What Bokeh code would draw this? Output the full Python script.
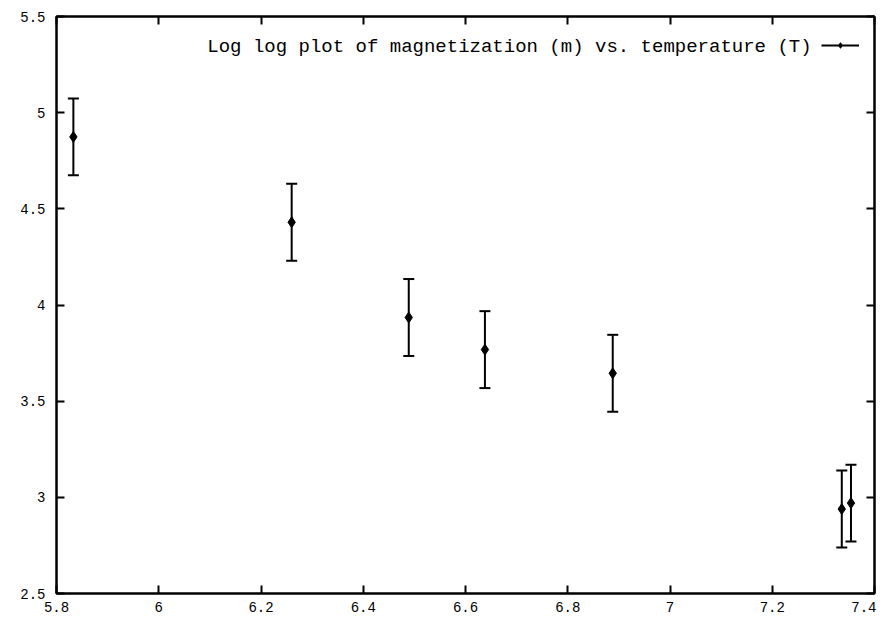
from bokeh.plotting import figure
from bokeh.models import LinearAxis, FixedTicker, Legend, LegendItem, Label, ColumnDataSource
from bokeh.embed import file_html
from bokeh.resources import INLINE

# data
temps = [5.833, 6.26, 6.489, 6.638, 6.888, 7.336, 7.354]
mags = [4.874, 4.43, 3.935, 3.768, 3.645, 2.939, 2.970]
errs = [0.2, 0.2, 0.2, 0.2, 0.2, 0.2, 0.2]
x_ticks = [5.8, 6.0, 6.2, 6.4, 6.6, 6.8, 7.0, 7.2, 7.4]
x_tick_labels = ["5.8", "6", "6.2", "6.4", "6.6", "6.8", "7", "7.2", "7.4"]
y_ticks = [2.5, 3.0, 3.5, 4.0, 4.5, 5.0, 5.5]
y_tick_labels = ["2.5", "3", "3.5", "4", "4.5", "5", "5.5"]
legend_text = "Log log plot of magnetization (m) vs. temperature (T)"

FONT = "Liberation Mono"

src = ColumnDataSource(dict(
    x=temps, y=mags,
    lo=[m - e for m, e in zip(mags, errs)],
    hi=[m + e for m, e in zip(mags, errs)],
))

p = figure(width=876, height=616, output_backend="svg", toolbar_location=None,
           x_range=(x_ticks[0], x_ticks[-1]), y_range=(y_ticks[0], y_ticks[-1]),
           min_border_left=56, min_border_right=2, min_border_top=16, min_border_bottom=23)
p.xgrid.visible = False
p.ygrid.visible = False
p.outline_line_color = "black"
p.outline_line_width = 2
p.background_fill_color = "white"
p.border_fill_color = "white"

def style(ax, ticks, labels, show_labels=True):
    ax.ticker = FixedTicker(ticks=ticks)
    if show_labels:
        ax.major_label_overrides = {t: l for t, l in zip(ticks, labels)}
    else:
        ax.major_label_overrides = {t: "" for t in ticks}
    ax.major_tick_in = 8
    ax.major_tick_out = 0
    ax.minor_tick_in = 0
    ax.minor_tick_out = 0
    ax.major_tick_line_width = 2
    ax.major_tick_line_color = "black"
    ax.axis_line_width = 2
    ax.axis_line_color = "black"
    ax.major_label_text_font = FONT
    ax.major_label_text_font_size = "14px" if show_labels else "1px"
    ax.major_label_text_color = "black"
    ax.major_label_standoff = 8 if show_labels else 0

style(p.xaxis[0], x_ticks, x_tick_labels)
style(p.yaxis[0], y_ticks, y_tick_labels)
p.yaxis[0].major_label_standoff = 11

top = LinearAxis()
style(top, x_ticks, x_tick_labels, show_labels=False)
p.add_layout(top, "above")
right = LinearAxis()
style(right, y_ticks, y_tick_labels, show_labels=False)
p.add_layout(right, "right")

seg = p.segment(x0="x", y0="lo", x1="x", y1="hi", source=src, line_color="black", line_width=2)
p.scatter(x="x", y="lo", source=src, marker="dash", size=11, line_color="black", line_width=2)
p.scatter(x="x", y="hi", source=src, marker="dash", size=11, line_color="black", line_width=2)
pts = p.scatter(x="x", y="y", source=src, marker="diamond", size=11,
                fill_color="black", line_color="black")

legend = Legend(items=[LegendItem(label=" ", renderers=[seg, pts])],
                location=(761, 537), glyph_width=38, glyph_height=14,
                label_width=1, label_standoff=0, padding=4, margin=0,
                label_text_font_size="10px",
                border_line_alpha=0, background_fill_alpha=0)
p.add_layout(legend)

p.add_layout(Label(x=7.277, y=5.34, text=legend_text, text_align="right",
                   text_baseline="middle", text_font=FONT, text_font_size="19px",
                   text_color="black"))

open("out.html", "w").write(file_html(p, INLINE))
